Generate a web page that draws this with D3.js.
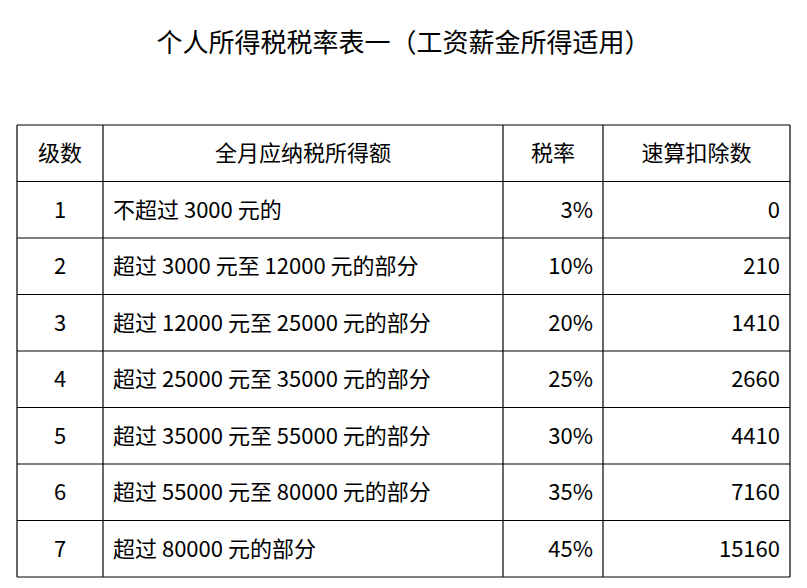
<!DOCTYPE html>
<html><head><meta charset="utf-8">
<script src="https://cdn.jsdelivr.net/npm/d3@7"></script>
<style>body{margin:0;background:#fff}</style>
</head><body>
<script>
// table data
const headers = ["级数", "全月应纳税所得额", "税率", "速算扣除数"];
const levels = [1, 2, 3, 4, 5, 6, 7];
const ranges = ["不超过 3000 元的", "超过 3000 元至 12000 元的部分", "超过 12000 元至 25000 元的部分",
  "超过 25000 元至 35000 元的部分", "超过 35000 元至 55000 元的部分", "超过 55000 元至 80000 元的部分",
  "超过 80000 元的部分"];
const rates = ["3%", "10%", "20%", "25%", "30%", "35%", "45%"];
const deductions = [0, 210, 1410, 2660, 4410, 7160, 15160];

const W = 807, H = 588;
const colEdges = [17, 103, 503, 603, 790];
const tableTop = 125, rowH = 56.5;
const font = "'Noto Sans CJK SC', sans-serif";

const svg = d3.select("body").append("svg").attr("width", W).attr("height", H);

svg.append("text").attr("x", W / 2).attr("y", 52).attr("text-anchor", "middle")
  .attr("font-family", font).attr("font-size", 26).text("个人所得税税率表一（工资薪金所得适用）");

const y = d3.scaleLinear().domain([0, levels.length + 1]).range([tableTop, tableTop + rowH * (levels.length + 1)]);

// grid
const g = svg.append("g").attr("stroke", "#000").attr("stroke-width", 1.2);
d3.range(levels.length + 2).forEach(i =>
  g.append("line").attr("x1", colEdges[0]).attr("x2", colEdges[4]).attr("y1", y(i)).attr("y2", y(i)));
colEdges.forEach(x =>
  g.append("line").attr("x1", x).attr("x2", x).attr("y1", y(0)).attr("y2", y(levels.length + 1)));

function cell(text, row, col, align) {
  const x0 = colEdges[col], x1 = colEdges[col + 1];
  const x = align === "middle" ? (x0 + x1) / 2 : align === "start" ? x0 + 10 : x1 - 10;
  svg.append("text").attr("x", x).attr("y", y(row + 0.5)).attr("dy", "0.36em")
    .attr("text-anchor", align).attr("font-family", font).attr("font-size", 22).text(text);
}
headers.forEach((h, c) => cell(h, 0, c, "middle"));
levels.forEach((l, i) => {
  cell(l, i + 1, 0, "middle");
  cell(ranges[i], i + 1, 1, "start");
  cell(rates[i], i + 1, 2, "end");
  cell(deductions[i], i + 1, 3, "end");
});
</script>
</body></html>
